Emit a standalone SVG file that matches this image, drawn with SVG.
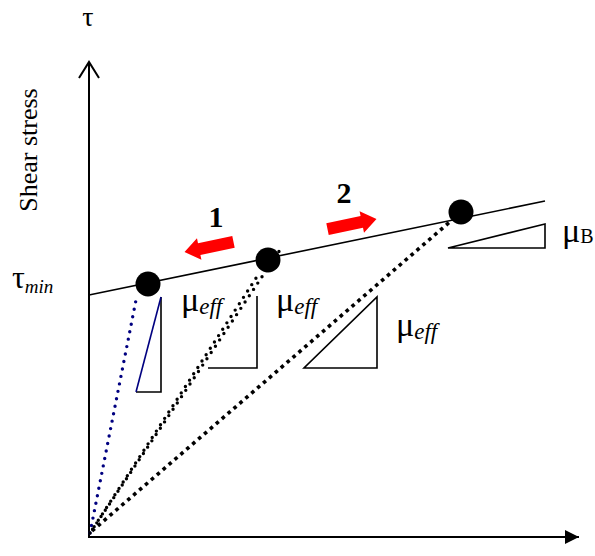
<svg xmlns="http://www.w3.org/2000/svg" width="595" height="556" viewBox="0 0 595 556">
<defs>
<style>
.ax{stroke:#000;stroke-width:2;fill:none}
.ln{stroke:#000;stroke-width:1.6;fill:none}
.tri{stroke:#000;stroke-width:1.6;fill:none}
.t{font-family:"Liberation Serif","Times New Roman",serif;fill:#000}
.i{font-style:italic}
.dotb{stroke:#000080;stroke-width:3.4;stroke-linecap:round;stroke-dasharray:0 7.6;fill:none}
.dotk{stroke:#000;stroke-width:3.4;stroke-linecap:round;stroke-dasharray:0 7.6;fill:none}
.dots{stroke:#000;stroke-width:3.6;stroke-dasharray:3.6 4.2;fill:none}
.arr{fill:#ff0000}
</style>
<marker id="ah" markerWidth="16" markerHeight="16" refX="14" refY="7" orient="auto" markerUnits="userSpaceOnUse">
<path d="M0,0 L14,7 L0,14 Z" fill="#000"/>
</marker>
</defs>
<g id="axes">
<line class="ax" x1="89" y1="536" x2="89" y2="62"/>
<polyline class="ax" points="79,78 89,62 99,78"/>
<line class="ax" x1="88" y1="537" x2="579" y2="537" marker-end="url(#ah)"/>
<text class="t" x="88" y="26" font-size="28" text-anchor="middle">τ</text>
<text class="t" x="37" y="150" font-size="26" text-anchor="middle" transform="rotate(-90 37 150)">Shear stress</text>
<text class="t" x="12" y="288" font-size="32">τ<tspan class="i" font-size="19" dy="5">min</tspan></text>
</g>
<g id="connectors">
<line class="ln" x1="89" y1="295" x2="545" y2="201"/>
<line class="dotb" x1="90" y1="533" x2="137" y2="295"/>
<line class="dotk" x1="90" y1="533" x2="260" y2="272"/>
<line class="dotk" x1="90" y1="533" x2="282" y2="247" stroke-dashoffset="3"/>
<line class="dots" x1="92" y1="531" x2="452" y2="220"/>
</g>
<g id="point1"><circle cx="148" cy="284" r="12.5" fill="#000"/></g>
<g id="point2"><circle cx="268" cy="260" r="12.5" fill="#000"/></g>
<g id="point3"><circle cx="461" cy="212" r="12.5" fill="#000"/></g>
<g id="arrow1">
<polygon class="arr" points="-25,-6 10,-6 10,-11 25,0 10,11 10,6 -25,6" transform="translate(209,247) rotate(168.4)"/>
<text class="t" x="216" y="227" font-size="30" font-weight="bold" text-anchor="middle">1</text>
</g>
<g id="arrow2">
<polygon class="arr" points="-25,-6 10,-6 10,-11 25,0 10,11 10,6 -25,6" transform="translate(352,224) rotate(-11.6)"/>
<text class="t" x="344" y="203" font-size="30" font-weight="bold" text-anchor="middle">2</text>
</g>
<g id="slope1">
<polyline class="tri" points="161,297 161,392 136,392"/>
<line x1="136" y1="392" x2="161" y2="297" stroke="#000080" stroke-width="1.6"/>
<text class="t" x="181" y="311" font-size="34">μ<tspan class="i" font-size="23" dy="3">eff</tspan></text>
</g>
<g id="slope2">
<polyline class="tri" points="257,296 257,368 208,368"/>
<text class="t" x="276" y="311" font-size="34">μ<tspan class="i" font-size="23" dy="3">eff</tspan></text>
</g>
<g id="slope3">
<polygon class="tri" points="304,368 377,368 377,297"/>
<text class="t" x="396" y="336" font-size="34">μ<tspan class="i" font-size="23" dy="3">eff</tspan></text>
</g>
<g id="slopeB">
<polygon class="tri" points="448,248 545,248 545,224"/>
<text class="t" x="562" y="242" font-size="34">μ<tspan font-size="20" dy="1">B</tspan></text>
</g>
</svg>
